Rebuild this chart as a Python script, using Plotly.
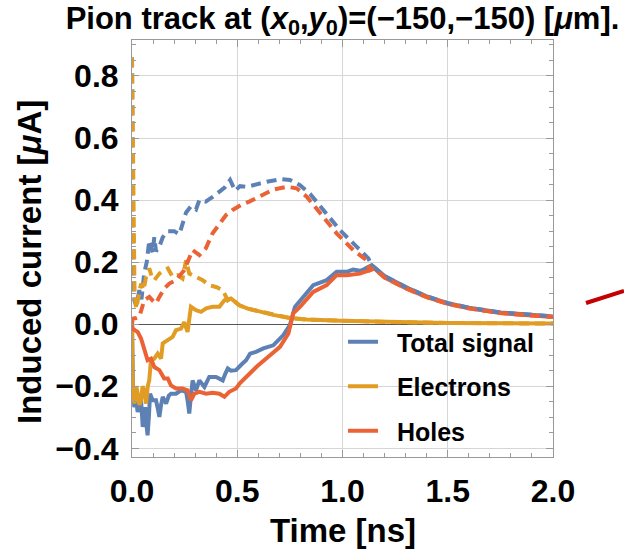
import plotly.graph_objects as go

# ---------------- data ----------------
TOTAL_X = [0, 0.005, 0.011, 0.02, 0.027, 0.035, 0.043, 0.051, 0.058, 0.063, 0.068, 0.074, 0.08, 0.086,
           0.098, 0.114, 0.122, 0.13, 0.138, 0.146, 0.162, 0.175, 0.185, 0.209, 0.233, 0.257, 0.265,
           0.272, 0.28, 0.288, 0.304, 0.32, 0.344, 0.367, 0.399, 0.431, 0.443, 0.455, 0.47, 0.494,
           0.52, 0.542, 0.561, 0.589, 0.624, 0.671, 0.719, 0.75, 0.774, 0.814, 0.861, 0.925, 0.972,
           1.02, 1.05, 1.083, 1.099]
TOTAL_Y = [0.0, -0.22, -0.267, -0.25, -0.283, -0.26, -0.245, -0.331, -0.28, -0.267, -0.32, -0.358, -0.3,
           -0.224, -0.245, -0.245, -0.27, -0.299, -0.26, -0.234, -0.256, -0.23, -0.224, -0.224, -0.213,
           -0.218, -0.25, -0.288, -0.23, -0.181, -0.213, -0.181, -0.202, -0.17, -0.17, -0.181, -0.16,
           -0.143, -0.15, -0.148, -0.13, -0.116, -0.095, -0.089, -0.078, -0.068, -0.035, -0.003, 0.056,
           0.088, 0.126, 0.142, 0.169, 0.169, 0.176, 0.172, 0.176]
TOTAL_TAIL_X = [1.139, 1.2, 1.3, 1.4, 1.5, 1.6, 1.75, 1.9, 2.0]
TOTAL_TAIL_Y = [0.19, 0.155, 0.12, 0.09, 0.068, 0.053, 0.038, 0.029, 0.025]

HOLES_X = [0, 0.003, 0.015, 0.027, 0.043, 0.058, 0.074, 0.09, 0.106, 0.13, 0.153, 0.17, 0.185, 0.209,
           0.24, 0.264, 0.28, 0.296, 0.32, 0.352, 0.383, 0.415, 0.439, 0.462, 0.494, 0.513, 0.542,
           0.576, 0.6, 0.656, 0.703, 0.743, 0.766, 0.798, 0.861, 0.925, 0.972, 1.02, 1.083]
HOLES_Y = [0.0, -0.014, -0.02, -0.025, -0.046, -0.084, -0.116, -0.111, -0.138, -0.148, -0.175, -0.175,
           -0.197, -0.207, -0.207, -0.213, -0.245, -0.224, -0.218, -0.224, -0.221, -0.224, -0.234,
           -0.218, -0.207, -0.19, -0.17, -0.145, -0.132, -0.1, -0.073, -0.03, 0.035, 0.056, 0.104,
           0.126, 0.158, 0.158, 0.163]
HOLES_TAIL_X = [1.13, 1.15, 1.2, 1.3, 1.4, 1.5, 1.6, 1.75, 1.9, 2.0]
HOLES_TAIL_Y = [0.174, 0.18, 0.15, 0.116, 0.087, 0.066, 0.051, 0.036, 0.028, 0.023]

ELEC_X = [0, 0.004, 0.011, 0.02, 0.027, 0.035, 0.043, 0.05, 0.058, 0.067, 0.075, 0.082, 0.09, 0.106,
          0.122, 0.138, 0.146, 0.17, 0.193, 0.209, 0.233, 0.248, 0.264, 0.28, 0.304, 0.328, 0.352,
          0.383, 0.415, 0.439]
ELEC_Y = [0.0, -0.2, -0.256, -0.2, -0.224, -0.26, -0.245, -0.2, -0.213, -0.256, -0.2, -0.18, -0.116,
          -0.111, -0.095, -0.111, -0.062, -0.052, -0.041, -0.019, -0.014, 0.007, -0.025, 0.056, 0.045,
          0.04, 0.051, 0.056, 0.056, 0.077]
ELEC_TAIL_X = [0.47, 0.51, 0.55, 0.6, 0.67, 0.75, 0.83, 0.988, 1.226, 1.5, 2.0]
ELEC_TAIL_Y = [0.083, 0.061, 0.05, 0.042, 0.03, 0.02, 0.015, 0.011, 0.007, 0.004, 0.002]

TOTAL_D_X = [0, 0.002, 0.005, 0.011, 0.02, 0.035, 0.045, 0.058, 0.07, 0.082, 0.09, 0.098, 0.106, 0.114,
             0.13, 0.146, 0.17, 0.2, 0.225, 0.257, 0.28, 0.304, 0.32, 0.35, 0.383, 0.415, 0.44, 0.466,
             0.49, 0.513, 0.545, 0.576, 0.608, 0.64, 0.687, 0.703, 0.75, 0.798, 0.846, 0.909, 0.988,
             1.067, 1.123]
TOTAL_D_Y = [0.86, 0.6, 0.3, 0.077, 0.06, 0.11, 0.08, 0.165, 0.2, 0.27, 0.25, 0.23, 0.28, 0.235, 0.25,
             0.28, 0.30, 0.30, 0.29, 0.36, 0.38, 0.37, 0.40, 0.395, 0.41, 0.427, 0.44, 0.465, 0.43,
             0.445, 0.443, 0.448, 0.454, 0.459, 0.465, 0.468, 0.465, 0.448, 0.42, 0.368, 0.303, 0.25,
             0.212]

HOLES_D_X = [0, 0.003, 0.02, 0.035, 0.058, 0.082, 0.1, 0.114, 0.13, 0.153, 0.177, 0.209, 0.248, 0.288,
             0.32, 0.35, 0.383, 0.415, 0.447, 0.478, 0.518, 0.557, 0.624, 0.671, 0.735, 0.782, 0.83,
             0.893, 0.972, 1.051, 1.115]
HOLES_D_Y = [0.0, 0.018, 0.02, 0.024, 0.077, 0.088, 0.075, 0.067, 0.088, 0.115, 0.131, 0.142, 0.174,
             0.239, 0.223, 0.244, 0.293, 0.325, 0.352, 0.368, 0.384, 0.395, 0.416, 0.434, 0.443, 0.438,
             0.411, 0.357, 0.293, 0.239, 0.206]

ELEC_D_X = [0, 0.002, 0.004, 0.008, 0.012, 0.02, 0.03, 0.043, 0.055, 0.067, 0.082, 0.095, 0.106, 0.13,
            0.153, 0.17, 0.193, 0.217, 0.24, 0.257, 0.272, 0.304, 0.336, 0.367, 0.399, 0.431, 0.455]
ELEC_D_Y = [0.86, 0.7, 0.45, 0.25, 0.1, 0.05, 0.09, 0.131, 0.11, 0.153, 0.18, 0.15, 0.142, 0.163, 0.174,
            0.18, 0.153, 0.158, 0.147, 0.206, 0.163, 0.153, 0.142, 0.126, 0.12, 0.11, 0.077]

NAMES = ["Total signal", "Electrons", "Holes"]
X_TICKS = [0.0, 0.5, 1.0, 1.5, 2.0]
Y_TICKS = [-0.4, -0.2, 0.0, 0.2, 0.4, 0.6, 0.8]

# ---------------- styling ----------------
BLUE = "#5E81B5"
GOLD = "#E19C24"
RED = "#EB6235"
FONT = "Liberation Sans, Arial, sans-serif"
FRAME = "#9a9a9a"

fig = go.Figure()

solid = [
    (TOTAL_X + TOTAL_TAIL_X, TOTAL_Y + TOTAL_TAIL_Y, BLUE, NAMES[0]),
    (ELEC_X + ELEC_TAIL_X, ELEC_Y + ELEC_TAIL_Y, GOLD, NAMES[1]),
    (HOLES_X + HOLES_TAIL_X, HOLES_Y + HOLES_TAIL_Y, RED, NAMES[2]),
]
for i, (xs, ys, c, n) in enumerate(solid):
    fig.add_trace(go.Scatter(x=xs, y=ys, mode="lines", name="\u00a0\u00a0" + n,
                             legendgroup=f"g{i}",
                             line=dict(color=c, width=4)))

dashed = [
    (TOTAL_D_X + TOTAL_TAIL_X, TOTAL_D_Y + TOTAL_TAIL_Y, BLUE),
    (ELEC_D_X + ELEC_TAIL_X, ELEC_D_Y + ELEC_TAIL_Y, GOLD),
    (HOLES_D_X + HOLES_TAIL_X, HOLES_D_Y + HOLES_TAIL_Y, RED),
]
for xs, ys, c in dashed:
    fig.add_trace(go.Scatter(x=xs, y=ys, mode="lines", showlegend=False,
                             line=dict(color=c, width=4, dash="10px,6px")))

axis_common = dict(
    showline=True, linecolor=FRAME, linewidth=1, mirror="allticks",
    ticks="inside", ticklen=7, tickcolor=FRAME, tickwidth=1,
    showgrid=True, gridcolor="#d6d6d6", gridwidth=1,
    tickfont=dict(family=FONT, size=32, color="black", weight="bold"),
)

fig.update_xaxes(range=[0, 2.0], tickvals=X_TICKS, ticktext=[f"{v:.1f}" for v in X_TICKS],
                 zeroline=False, ticklabelstandoff=6,
                 minor=dict(dtick=0.1, tick0=0, ticks="inside", ticklen=4, tickcolor=FRAME, showgrid=False),
                 **axis_common)
fig.update_yaxes(range=[-0.428, 0.916], tickvals=Y_TICKS,
                 ticktext=[(f"{v:.1f}" if v >= 0 else "\u2212" + f"{-v:.1f}") for v in Y_TICKS],
                 zeroline=True, zerolinecolor="#555555", zerolinewidth=1.2, ticklabelstandoff=6,
                 minor=dict(dtick=0.05, tick0=0, ticks="inside", ticklen=4, tickcolor=FRAME, showgrid=False),
                 **axis_common)

fig.update_layout(
    width=624, height=552,
    margin=dict(l=132, r=71, t=40, b=95),
    paper_bgcolor="white", plot_bgcolor="white",
    title=dict(text="Pion track at (<i>x</i><sub>0</sub>,<i>y</i><sub>0</sub>)=(\u2212150,\u2212150) [<i>\u03bc</i>m].",
               x=0.5, xref="paper", xanchor="center", y=1 - 18 / 552, yanchor="middle",
               font=dict(family=FONT, size=31, color="black", weight="bold")),
    legend=dict(x=(343 - 132) / 421, y=(457 - 319) / 417, xanchor="left", yanchor="top",
                bgcolor="rgba(0,0,0,0)", borderwidth=0, tracegroupgap=9,
                font=dict(family=FONT, size=25, color="black", weight="bold")),
    showlegend=True,
    annotations=[
        dict(text="Induced current [<i>\u03bc</i>A]", textangle=-90, xref="paper", yref="paper",
             x=(29 - 132) / 421, y=(457 - 262) / 417, xanchor="center", yanchor="middle", showarrow=False,
             font=dict(family=FONT, size=33, color="black", weight="bold")),
        dict(text="Time [ns]", xref="paper", yref="paper",
             x=0.5, y=(457 - 530) / 417, xanchor="center", yanchor="middle", showarrow=False,
             font=dict(family=FONT, size=33, color="black", weight="bold")),
    ],
    shapes=[
        dict(type="line", xref="paper", yref="paper",
             x0=(586 - 132) / 421, y0=(457 - 303) / 417, x1=(624 - 132) / 421, y1=(457 - 291) / 417,
             line=dict(color="#C40000", width=4)),
    ],
)

fig.write_html("out.html")
